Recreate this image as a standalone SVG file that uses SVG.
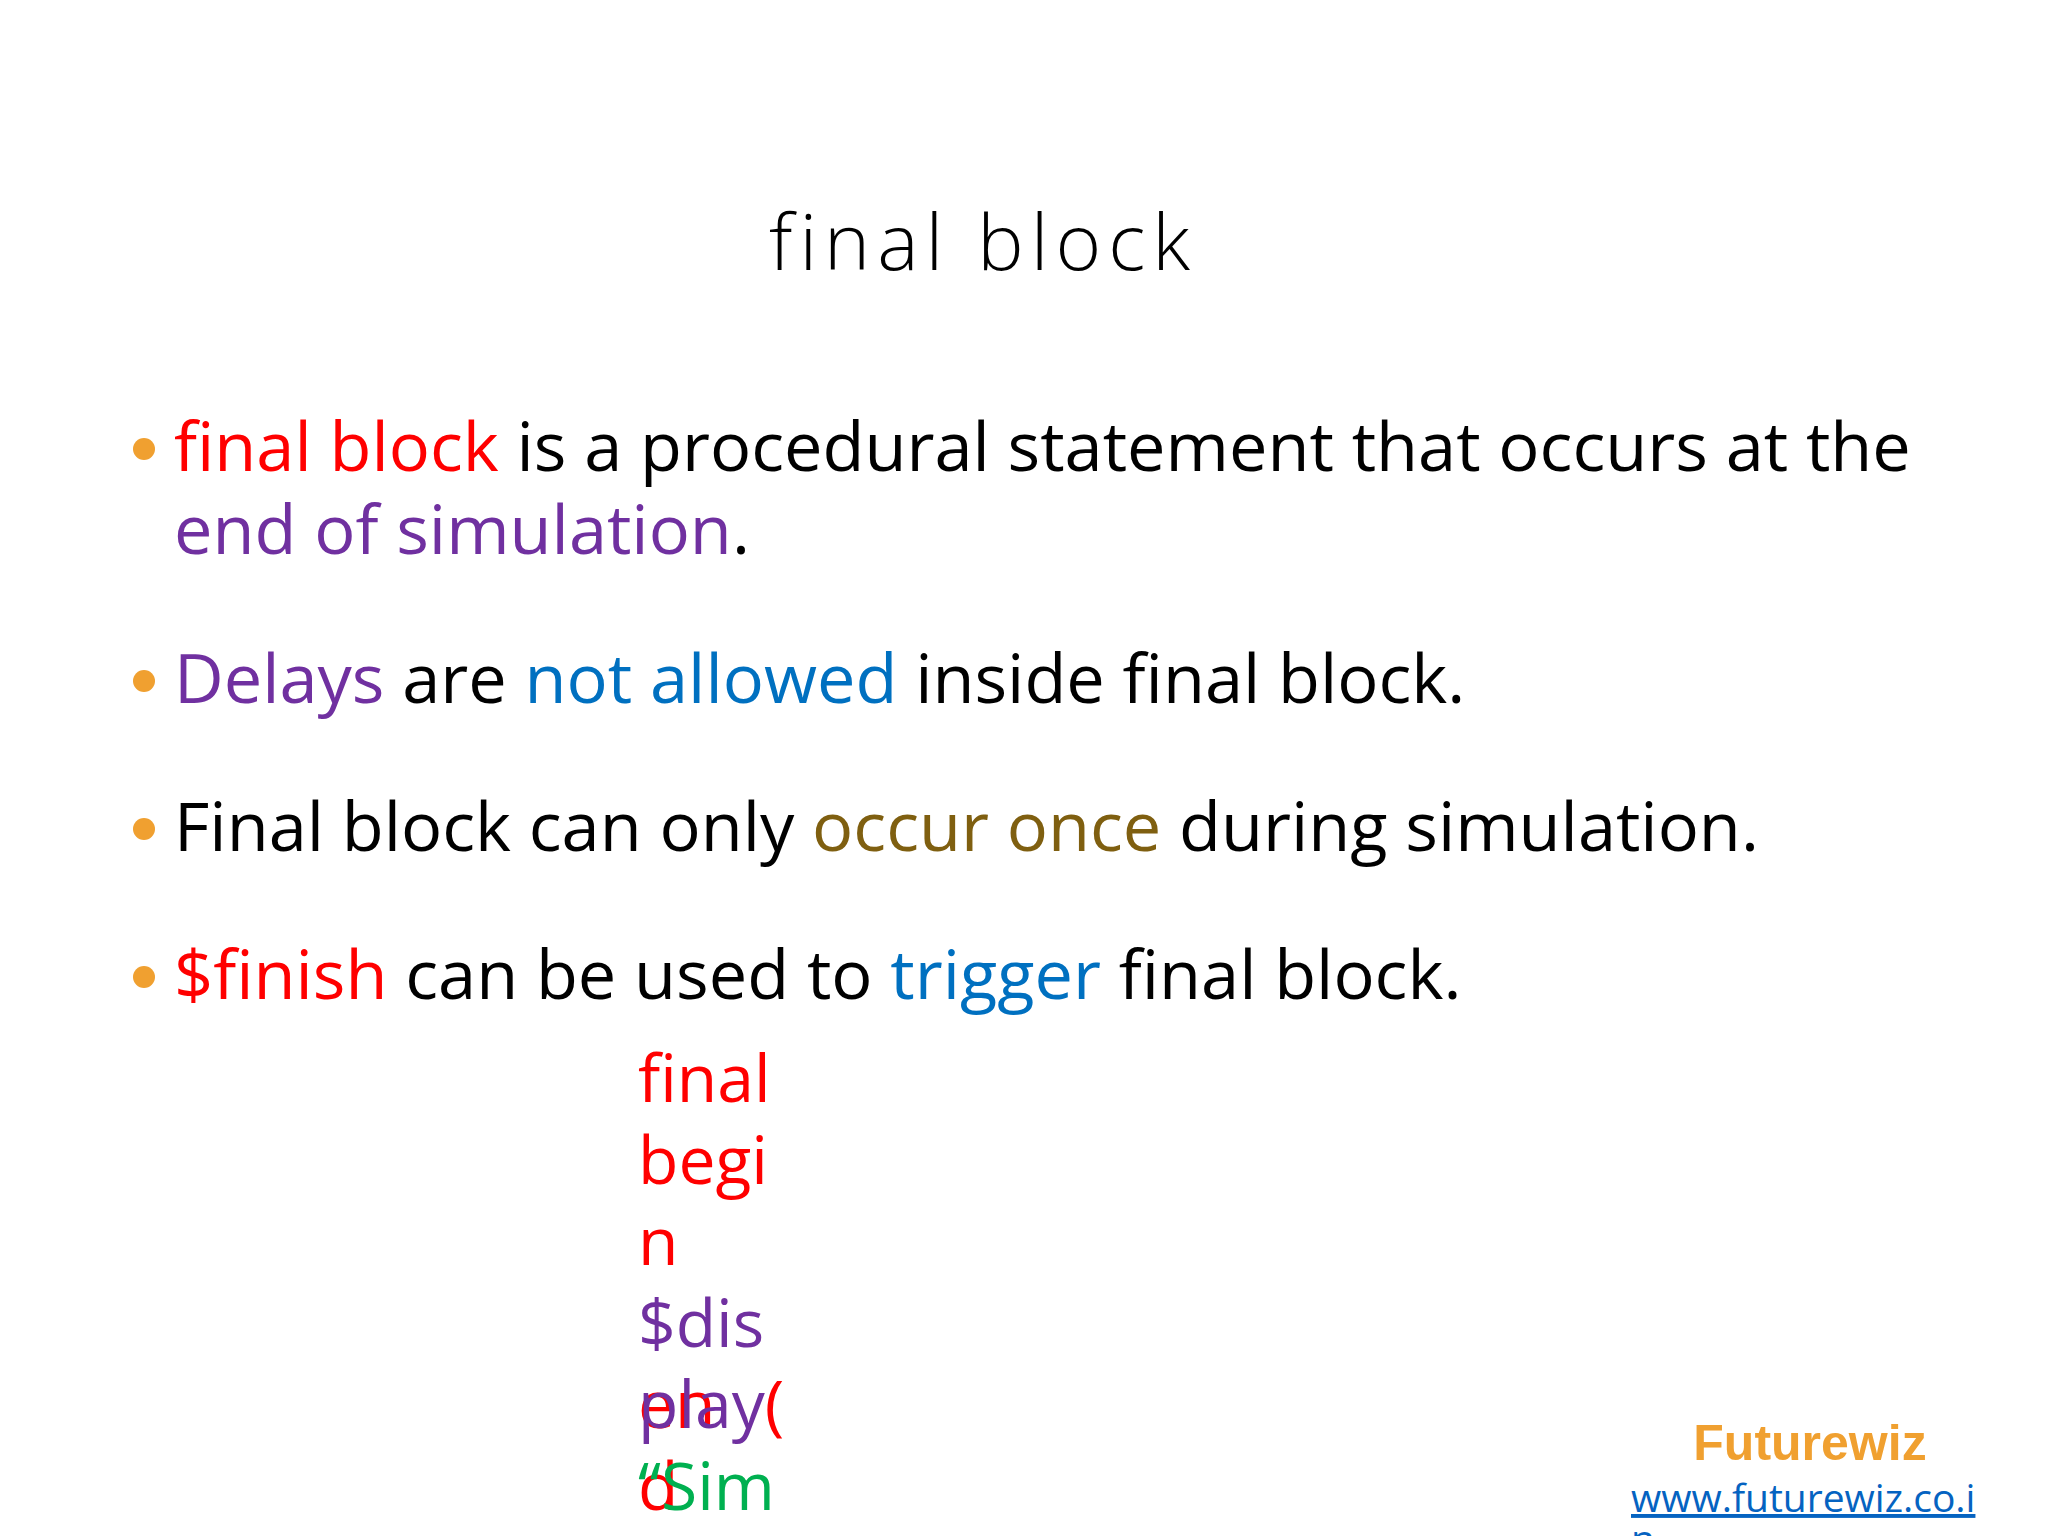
<svg xmlns="http://www.w3.org/2000/svg" width="2048" height="1536" viewBox="0 0 2048 1536">
<style>
text{font-family:"Open Sans","Noto Sans",sans-serif;}
.b{font-size:68.5px;fill:#000}
.r{fill:#FF0000}.p{fill:#7030A0}.u{fill:#0070C0}.o{fill:#7F5F10}.g{fill:#00B050}
.c{font-size:66px}
.dot{fill:#F0A030}
.logo{font-family:"Liberation Sans",Arial,sans-serif;font-weight:bold;font-size:50px;fill:#F0A030}
</style>
<rect width="2048" height="1536" fill="#fff"/>
<g id="title"><text x="983" y="270" font-size="78" font-weight="300" letter-spacing="7" text-anchor="middle" fill="#000">final block</text></g>
<g id="bullets">
<circle class="dot" cx="144" cy="449" r="11"/>
<text class="b" x="174" y="471"><tspan class="r">final block</tspan> is a procedural statement that occurs at the</text>
<text class="b" x="174" y="554"><tspan class="p">end of simulation</tspan>.</text>
<circle class="dot" cx="144" cy="681" r="11"/>
<text class="b" x="174" y="703"><tspan class="p">Delays</tspan> are <tspan class="u">not allowed</tspan> inside final block.</text>
<circle class="dot" cx="144" cy="829" r="11"/>
<text class="b" x="174" y="851">Final block can only <tspan class="o">occur once</tspan> during simulation.</text>
<circle class="dot" cx="144" cy="977" r="11"/>
<text class="b" x="174" y="999"><tspan class="r">$finish</tspan> can be used to <tspan class="u">trigger</tspan> final block.</text>
</g>
<g id="code">
<text class="c r" x="638" y="1102">final</text>
<text class="c r" x="638" y="1184">begi</text>
<text class="c r" x="638" y="1265">n</text>
<text class="c p" x="638" y="1347">$dis</text>
<text class="c r" x="638" y="1428">en</text>
<text class="c p" x="638" y="1428">play<tspan class="r">(</tspan></text>
<text class="c r" x="638" y="1510">d</text>
<text class="c g" x="638" y="1510">“Sim</text>
</g>
<g id="logo">
<text class="logo" x="1810" y="1460" text-anchor="middle">Futurewiz</text>
<text x="1631" y="1512" font-size="39" fill="#0563C1" text-decoration="underline">www.futurewiz.co.i</text>
<text x="1631" y="1553" font-size="39" fill="#0563C1">n</text>
</g>
</svg>
